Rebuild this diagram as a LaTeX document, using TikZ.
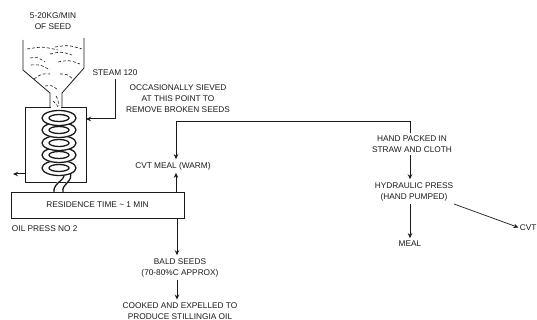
\documentclass[tikz,border=0pt]{standalone}
\usepackage{fontspec}
\setmainfont{Liberation Sans}
\usetikzlibrary{arrows.meta,calc}
\definecolor{cInk}{HTML}{1A1A1A}
\begin{document}
\begin{tikzpicture}[x=1pt,y=-1pt,>={Stealth[length=5pt,width=4.5pt]},color=cInk,
  lab/.style={font=\fontsize{8.3}{11}\selectfont,align=center,inner sep=0pt,outer sep=3pt},
  wall/.style={draw=cInk,line width=0.8pt},
  flow/.style={->,draw=cInk,line width=1pt},
  coil/.style={draw=cInk,line width=1.3pt,fill=white},
  seed/.style={draw=cInk,line width=0.6pt,densely dashed}]
\useasboundingbox (0,0) rectangle (537,320);
% ---------- hopper and screw ----------
\draw[wall] (23,40)--(23,70)--(50,93)--(50,108);
\draw[wall] (84,38)--(84,68)--(62,93)--(62,108);
\foreach \a/\b/\c/\d in {27/49/58/50,55/47/82/49,30/58/45/62,50/54/72/55,31/65/50/70,58/62/80/64,34/79/50/74,60/74/74/80,45/86/58/90,56/96/59/106,53/101/60/112,52/108/57/114}{
  \draw[seed] (\a,\b) .. controls ($(\a,\b)!0.5!(\c,\d)+(0,-3)$) .. (\c,\d);}
\node[draw=cInk,line width=0.8pt,minimum width=61pt,minimum height=75pt,inner sep=0pt,outer sep=0pt] (screwbox) at (55.5,145) {};
\fill[white] (51,107) rectangle (61,110);
\draw[coil] (60,172) .. controls (72,178) and (52,182) .. (54,192);
\draw[coil] (70,172) .. controls (74,182) and (61,184) .. (63,192);
\foreach \y in {168,155,143,130,118}{
  \draw[coil] (59,\y) ellipse (17pt and 7.5pt);
  \draw[coil] (59,\y) ellipse (10pt and 3.5pt);}
\node[draw=cInk,line width=0.9pt,fill=white,minimum width=173pt,minimum height=26pt,inner sep=0pt,outer sep=0pt,font=\fontsize{8.3}{11}\selectfont] (press) at (97.5,205) {RESIDENCE TIME \textasciitilde{} 1 MIN};
% ---------- labels ----------
\node[lab] (seedin) at (53,21.5) {5-20KG/MIN\\OF SEED};
\node[lab] (steam) at (115,73) {STEAM 120};
\node[lab] (sieved) at (178,99) {OCCASIONALLY SIEVED\\AT THIS POINT TO\\REMOVE BROKEN SEEDS};
\node[lab] (cvtmeal) at (173,166) {CVT MEAL (WARM)};
\node[lab,anchor=west,outer sep=0pt] (pressname) at (12,229) {OIL PRESS NO 2};
\node[lab] (bald) at (180,267.5) {BALD SEEDS\\(70-80\%C APPROX)};
\node[lab] (cooked) at (180,311) {COOKED AND EXPELLED TO\\PRODUCE STILLINGIA OIL};
\node[lab] (hand) at (412,144) {HAND PACKED IN\\STRAW AND CLOTH};
\node[lab] (hydraulic) at (414,191.5) {HYDRAULIC PRESS\\(HAND PUMPED)};
\node[lab] (meal) at (410,244) {MEAL};
\node[lab,anchor=east,outer sep=0pt] (cvt) at (536.5,228) {CVT};
% ---------- connectors ----------
\draw[flow] (steam.south) |- (screwbox.east |- 0,119);
\draw[flow] (screwbox.west |- 0,174) -- (13,174);
\draw[flow] (press.north -| 176,0) -- ([xshift=3pt]cvtmeal.south);
\draw[flow] ([xshift=-2pt]hand.north) |- (176,122) -- ([xshift=3pt]cvtmeal.north);
\draw[flow] (press.south -| 177,0) -- ([xshift=-3pt]bald.north);
\draw[flow] ([xshift=-3pt]bald.south) -- ([xshift=-3pt]cooked.north);
\draw[flow] ([xshift=-2pt]hand.south) -- ([xshift=-4pt]hydraulic.north);
\draw[flow] ([xshift=-4pt]hydraulic.south) -- (meal.north);
\draw[flow,line width=0.7pt,shorten >=1.5pt] (454,204) -- (cvt.west);
\end{tikzpicture}
\end{document}
